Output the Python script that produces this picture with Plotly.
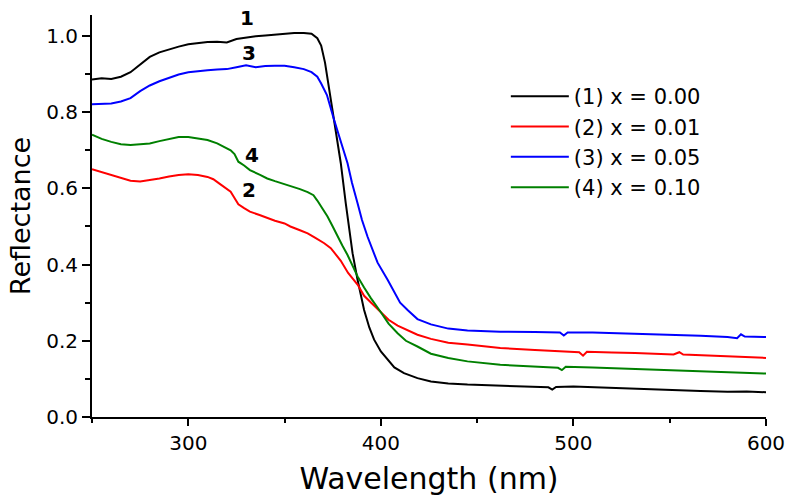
import plotly.graph_objects as go

# (1) x = 0.00  -- black
wl_1 = [250, 255, 260, 265, 270, 275, 280, 285, 290, 295, 300, 305, 310, 315, 320,
        325, 330, 335, 340, 345, 350, 355, 360, 364, 367, 369, 371, 374, 376.6,
        379.2, 381.8, 383, 385.3, 387.9, 391.3, 394, 396.5, 400, 403.5, 407, 412,
        419, 426, 435, 445, 462, 480, 487, 489, 491, 500, 515, 532, 550, 566, 580,
        590, 600]
r_1 = [0.886, 0.889, 0.887, 0.893, 0.905, 0.925, 0.945, 0.957, 0.965, 0.972, 0.978,
       0.982, 0.984, 0.985, 0.983, 0.992, 0.996, 0.999, 1.001, 1.003, 1.006, 1.008,
       1.008, 1.006, 0.994, 0.975, 0.93, 0.835, 0.753, 0.666, 0.56, 0.51, 0.43, 0.36,
       0.281, 0.235, 0.203, 0.172, 0.15, 0.13, 0.115, 0.102, 0.093, 0.088, 0.085,
       0.082, 0.079, 0.078, 0.072, 0.079, 0.08, 0.077, 0.074, 0.071, 0.068, 0.066,
       0.067, 0.065]

# (2) x = 0.01  -- red
wl_2 = [250, 255, 260, 265, 270, 275, 280, 285, 290, 295, 300, 305, 310, 313, 316,
        319, 322, 324, 326, 329, 332, 337, 341, 345, 350, 353, 358, 362, 366, 370.6,
        374, 379.2, 383, 388, 391.3, 394.8, 400, 404, 408.7, 415, 419, 426, 435,
        445, 462, 480, 495, 503, 505, 507, 520, 532, 552, 555, 557, 570, 584, 600]
r_2 = [0.65, 0.643, 0.636, 0.628, 0.62, 0.618, 0.621, 0.626, 0.631, 0.635, 0.637,
       0.635, 0.63, 0.624, 0.613, 0.603, 0.591, 0.575, 0.558, 0.548, 0.539, 0.53,
       0.522, 0.515, 0.508, 0.5, 0.49, 0.482, 0.47, 0.456, 0.443, 0.41, 0.378, 0.347,
       0.318, 0.3, 0.273, 0.255, 0.24, 0.225, 0.216, 0.205, 0.195, 0.19, 0.181,
       0.176, 0.172, 0.17, 0.161, 0.171, 0.169, 0.168, 0.164, 0.17, 0.164, 0.161,
       0.159, 0.155]

# (3) x = 0.05  -- blue
wl_3 = [250, 255, 260, 265, 270, 275, 280, 285, 290, 295, 300, 305, 310, 315, 320,
        325, 330, 335, 340, 345, 350, 355, 360, 364, 367, 369, 372, 375.7, 377.5,
        380, 382.7, 385, 387.9, 390.2, 393.1, 396.5, 398.3, 403.5, 408.7, 410, 414,
        419, 426, 435, 445, 462, 480, 493, 495, 497, 510, 532, 550, 566, 580, 585,
        587, 589, 600]
r_3 = [0.821, 0.822, 0.823, 0.828, 0.837, 0.855, 0.87, 0.881, 0.89, 0.899, 0.905,
       0.908, 0.91, 0.912, 0.913, 0.918, 0.923, 0.918, 0.921, 0.922, 0.922, 0.918,
       0.913, 0.905, 0.893, 0.875, 0.845, 0.78, 0.753, 0.71, 0.666, 0.615, 0.561,
       0.517, 0.473, 0.43, 0.405, 0.36, 0.312, 0.3, 0.28, 0.257, 0.243, 0.232, 0.227,
       0.224, 0.223, 0.222, 0.214, 0.222, 0.222, 0.219, 0.217, 0.213, 0.21, 0.207,
       0.217, 0.211, 0.21]

# (4) x = 0.10  -- green
wl_4 = [250, 255, 260, 265, 270, 275, 280, 285, 290, 295, 300, 305, 310, 315, 319,
        322, 324, 326, 329, 332, 337, 341, 345, 350, 355, 358, 362, 365, 367, 370,
        372.3, 375, 377.5, 380, 382.7, 387.9, 391.3, 394.8, 400, 404, 408.7, 413,
        419, 426, 435, 445, 462, 480, 492, 494, 496, 510, 532, 550, 566, 585, 600]
r_4 = [0.741, 0.73, 0.722, 0.716, 0.714, 0.715, 0.718, 0.724, 0.73, 0.735, 0.735,
       0.732, 0.727, 0.718, 0.708, 0.7, 0.69, 0.67, 0.66, 0.648, 0.636, 0.626, 0.619,
       0.611, 0.604, 0.598, 0.59, 0.582, 0.568, 0.545, 0.526, 0.5, 0.473, 0.45,
       0.425, 0.369, 0.34, 0.312, 0.275, 0.245, 0.22, 0.2, 0.185, 0.166, 0.155,
       0.146, 0.137, 0.131, 0.129, 0.123, 0.132, 0.13, 0.126, 0.123, 0.12, 0.117,
       0.114]

names = ['(1) x = 0.00', '(2) x = 0.01', '(3) x = 0.05', '(4) x = 0.10']
colors = ['#000000', '#ff0000', '#0000ff', '#008000']

# curve number labels: text, wavelength, reflectance
label_txt = ['1', '2', '3', '4']
label_x = [330.7, 331.4, 331.4, 333.3]
label_y = [1.048, 0.596, 0.955, 0.688]

FONT = 'DejaVu Sans'

fig = go.Figure()
for wl, r, nm, c in zip([wl_1, wl_2, wl_3, wl_4], [r_1, r_2, r_3, r_4], names, colors):
    fig.add_trace(go.Scatter(x=wl, y=r, mode='lines', name=nm,
                             line=dict(color=c, width=2)))

for t, x, y in zip(label_txt, label_x, label_y):
    fig.add_annotation(x=x, y=y, text='<b>%s</b>' % t, showarrow=False,
                       font=dict(family=FONT, size=20, color='black'))

fig.update_layout(
    width=789, height=503,
    margin=dict(l=92, r=23, t=15, b=86),
    paper_bgcolor='white', plot_bgcolor='white',
    font=dict(family=FONT, color='black'),
    showlegend=True,
    legend=dict(x=0.614, y=0.848, xanchor='left', yanchor='top',
                font=dict(family=FONT, size=21), bgcolor='rgba(0,0,0,0)',
                itemwidth=58, tracegroupgap=0),
)
fig.update_xaxes(range=[250, 600], tick0=300, dtick=100, automargin=False,
                 ticklabeloverflow='allow',
                 showline=True, linecolor='black', linewidth=2,
                 ticks='outside', ticklen=7, tickwidth=2, tickcolor='black',
                 minor=dict(dtick=50, tick0=250, ticks='outside', ticklen=4,
                            tickwidth=2, tickcolor='black'),
                 showgrid=False, zeroline=False,
                 tickfont=dict(size=20),
                 title=dict(text='Wavelength (nm)', font=dict(size=30), standoff=14))
fig.update_yaxes(range=[0, 1.055], dtick=0.2, tickformat='.1f', automargin=False,
                 showline=True, linecolor='black', linewidth=2,
                 ticks='outside', ticklen=8, tickwidth=2, tickcolor='black',
                 minor=dict(dtick=0.1, ticks='outside', ticklen=5,
                            tickwidth=2, tickcolor='black'),
                 showgrid=False, zeroline=False,
                 tickfont=dict(size=20),
                 title=dict(text='Reflectance', font=dict(size=27), standoff=8))

# drop the default 8px body margin so the figure fills the window exactly
fig.write_html('out.html', config={'displayModeBar': False},
               post_script="document.body.style.margin='0';")
